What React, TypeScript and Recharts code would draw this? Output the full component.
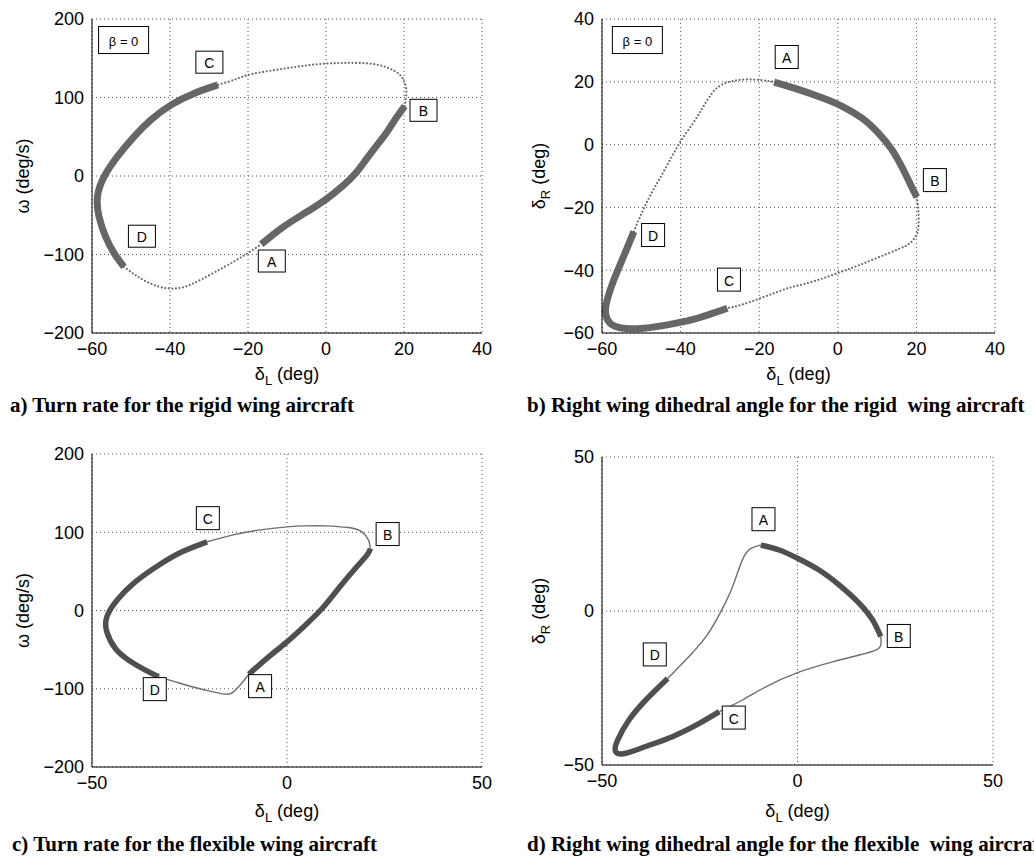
import React from 'react'
import { ComposedChart, Line, XAxis, YAxis, CartesianGrid, ReferenceDot, Label } from 'recharts'

// (δL, value) pairs, split into the thin and the starred (thick) stretches
const aThickAB = [[-16.6, -87], [-11.2, -65.7], [-5.2, -46.6], [0, -29.7], [4.3, -12.7], [7.7, 4.2], [10.3, 21.2], [12.9, 38.1], [15.5, 55], [18, 74], [20.2, 89]]
const aThinBC = [[20.2, 89], [20.6, 106], [20.2, 118.6], [18.9, 129], [16.3, 137], [12.9, 142], [8.6, 144], [4.3, 144], [0, 143.2], [-5.2, 140.7], [-11.2, 136.4], [-18.9, 130], [-23, 123.5], [-27.7, 116]]
const aThickCD = [[-27.7, 116], [-33.7, 105.5], [-39.7, 90.6], [-44.9, 71.5], [-49.2, 50.2], [-53.5, 24.7], [-56.9, -0.9], [-58.6, -26.4], [-58.2, -51.9], [-56.5, -77.4], [-54.3, -98.7], [-51.8, -115.7]]
const aThinDA = [[-51.8, -115.7], [-47.5, -130.6], [-43.2, -140.4], [-39.7, -143.4], [-36.3, -141.3], [-32, -131.9], [-26, -115.7], [-20.9, -100.9], [-16.6, -87]]

const bThickAB = [[-16.2, 19.9], [-9.9, 17.5], [-4, 14.9], [1.1, 12.2], [6.2, 8.4], [10.4, 3.6], [13.8, -1.7], [16.7, -8.1], [18.8, -13.5], [20.1, -16.7]]
const bThinBC = [[20.1, -16.7], [20.5, -21], [20.5, -26.3], [19.7, -29.5], [18, -31.7], [15.4, -33.3], [10.4, -35.9], [5, -38.6], [0, -40.9], [-5.5, -43.3], [-11.1, -45.2], [-14.5, -46.5], [-19.6, -48.9], [-24.7, -51.1], [-28.1, -52.1]]
const bThickCD = [[-28.1, -52.1], [-36.6, -55.6], [-43.4, -57.4], [-49.4, -58.5], [-54.5, -58.5], [-57.9, -56.9], [-59.1, -53.7], [-58.7, -49.5], [-57, -43.1], [-54.5, -35.6], [-51.9, -27.7]]
const bThinDA = [[-51.9, -27.7], [-48.5, -18.1], [-44.5, -9], [-40.3, 0.4], [-37, 6.5], [-34.5, 11.5], [-32.2, 16], [-29.3, 19.2], [-24.2, 20.7], [-19.2, 20.5], [-16.2, 19.9]]

const cThickAB = [[-9.8, -81.4], [-4.7, -59.2], [0, -40], [4.7, -18.7], [9, 2.6], [13.2, 28.1], [17.5, 53.7], [20.5, 70.7], [21.4, 79.2]]
const cThinBC = [[21.4, 79.2], [20.9, 89.9], [19.2, 100.5], [15.8, 106], [9.8, 108.2], [4.7, 108.2], [0, 106.9], [-7.3, 102.7], [-14.1, 96.3], [-20.5, 87.8]]
const cThickCD = [[-20.5, 87.8], [-26.9, 75], [-32.9, 57.9], [-38.9, 36.6], [-43.6, 13.2], [-46.2, -8.1], [-46.2, -27.3], [-44, -48.6], [-40.6, -63.5], [-36.3, -76.3], [-32.9, -84.8]]
const cThinDA = [[-32.9, -84.8], [-28.6, -91.2], [-24.4, -97.5], [-20.1, -102.7], [-15.8, -106.9], [-14.1, -105.2], [-12.4, -97.5], [-9.8, -81.4]]

const dThickAB = [[-9.4, 21.4], [-4.7, 19.8], [0, 17.1], [5.5, 13.3], [10.7, 8.4], [15.8, 2.5], [19.2, -2.9], [21.3, -8.3]]
const dThinBC = [[21.3, -8.3], [21.3, -11], [20, -12.7], [15.8, -14.3], [9, -16.5], [0, -20], [-8.1, -24.6], [-14.1, -28.9], [-20, -32.7]]
const dThickCD = [[-20, -32.7], [-25.1, -36.5], [-32, -40.8], [-38.8, -44], [-43.9, -46.2], [-46.5, -45.7], [-46, -41.9], [-43.1, -35.4], [-38.8, -28.9], [-33.2, -21.9]]
const dThinDA = [[-33.2, -21.9], [-28.6, -15.9], [-23.4, -8.3], [-19.6, -0.2], [-16.6, 7.9], [-14.1, 16.6], [-11.9, 20.3], [-9.4, 21.4]]

// boxed annotations [δL, value, text]
const aLabels = [[-51.9, 173.2, 'β = 0'], [-29.9, 145, 'C'], [25, 83.7, 'B'], [-13.9, -108.3, 'A'], [-47.2, -76.7, 'D']]
const bLabels = [[-51, 33.3, 'β = 0'], [-13, 27.9, 'A'], [24.7, -11.3, 'B'], [-47, -28.8, 'D'], [-27.7, -43, 'C']]
const cLabels = [[-20.3, 118, 'C'], [25.8, 97.7, 'B'], [-6.9, -96.7, 'A'], [-33.9, -100.5, 'D']]
const dLabels = [[-8.7, 29.8, 'A'], [25.9, -8.1, 'B'], [-36.5, -14.1, 'D'], [-16.3, -34.6, 'C']]

const rigidX = [-60, -40, -20, 0, 20, 40]
const flexX = [-50, 0, 50]
const omegaTicks = [-200, -100, 0, 100, 200]
const rigidRTicks = [-60, -40, -20, 0, 20, 40]
const flexRTicks = [-50, 0, 50]

const captions = [
  'a) Turn rate for the rigid wing aircraft',
  'b) Right wing dihedral angle for the rigid  wing aircraft',
  'c) Turn rate for the flexible wing aircraft',
  'd) Right wing dihedral angle for the flexible  wing aircraft',
]

const SANS = '"Liberation Sans", Arial, Helvetica, sans-serif'
const toPts = (arr: number[][]) => arr.map(([x, y]) => ({ x, y }))
const fmt = (v: number) => String(v).replace('-', '\u2212')

function BoxLabel(props: any) {
  const { cx, cy, text, w, h } = props
  const isBeta = text.length > 1
  return (
    <g>
      <rect x={cx - w / 2} y={cy - h / 2} width={w} height={h} fill="#fff" stroke="#000" strokeWidth={1} />
      <text x={cx} y={cy + 1} textAnchor="middle" dominantBaseline="central" fontFamily={SANS} fontSize={isBeta ? 13 : 14} fill="#000">
        {text}
      </text>
    </g>
  )
}

function Title({ viewBox, sym, sub, unit, vertical, off }: any) {
  const { x, y, width, height } = viewBox
  const content = [
    <tspan key="a">{sym}</tspan>,
    <tspan key="b" fontSize={13} dy={5}>{sub}</tspan>,
    <tspan key="c" dy={sub ? -5 : 0}>{unit}</tspan>,
  ]
  if (vertical) {
    const tx = x + width + off
    const ty = y + height / 2
    return (
      <text x={tx} y={ty} transform={`rotate(-90 ${tx} ${ty})`} textAnchor="middle" fontFamily={SANS} fontSize={18} fill="#000">
        {content}
      </text>
    )
  }
  return (
    <text x={x + width / 2} y={y + off} textAnchor="middle" fontFamily={SANS} fontSize={18} fill="#000">
      {content}
    </text>
  )
}

interface PanelProps {
  left: number
  top: number
  height: number
  margin: { top: number; right: number; bottom: number; left: number }
  xTicks: number[]
  yTicks: number[]
  thick: number[][][]
  thin: number[][][]
  labels: any[]
  boxW: number
  boxH: number
  flexible: boolean
  ySym: string
  ySub: string
  yUnit: string
  yOff: number
  xOff: number
}

function Panel(p: PanelProps) {
  const thickStroke = p.flexible ? '#4f4f4f' : '#666'
  const thinProps = p.flexible
    ? { stroke: '#6e6e6e', strokeWidth: 1.4 }
    : { stroke: '#6a6a6a', strokeWidth: 2.2, strokeDasharray: '0 3.6', strokeLinecap: 'round' as const }
  return (
    <div style={{ position: 'absolute', left: p.left, top: p.top }}>
      <ComposedChart width={510} height={p.height} margin={p.margin}>
        <CartesianGrid stroke="#555" strokeDasharray="1 3" />
        <XAxis
          type="number"
          dataKey="x"
          domain={[p.xTicks[0], p.xTicks[p.xTicks.length - 1]]}
          ticks={p.xTicks}
          allowDataOverflow
          height={50}
          tickLine={false}
          tickSize={7}
          tickFormatter={fmt}
          axisLine={{ stroke: '#000', strokeWidth: 1 }}
          tick={{ fill: '#000', fontSize: 18, fontFamily: SANS }}
        >
          <Label content={(lp: any) => <Title {...lp} sym="δ" sub="L" unit=" (deg)" off={p.xOff} />} />
        </XAxis>
        <YAxis
          type="number"
          dataKey="y"
          domain={[p.yTicks[0], p.yTicks[p.yTicks.length - 1]]}
          ticks={p.yTicks}
          allowDataOverflow
          width={80}
          tickLine={false}
          tickSize={6}
          tickFormatter={fmt}
          axisLine={{ stroke: '#000', strokeWidth: 1 }}
          tick={{ fill: '#000', fontSize: 18, fontFamily: SANS }}
        >
          <Label content={(lp: any) => <Title {...lp} vertical sym={p.ySym} sub={p.ySub} unit={p.yUnit} off={p.yOff} />} />
        </YAxis>
        {p.thin.map((seg, i) => (
          <Line key={'thin' + i} data={toPts(seg)} dataKey="y" type="natural" dot={false} isAnimationActive={false} {...thinProps} />
        ))}
        {p.thick.map((seg, i) => (
          <Line key={'thick' + i} data={toPts(seg)} dataKey="y" type="natural" dot={false} isAnimationActive={false} stroke={thickStroke} strokeWidth={p.flexible ? 5.5 : 7} />
        ))}
        {p.labels.map(([x, y, text]) => (
          <ReferenceDot
            key={text}
            x={x}
            y={y}
            r={0}
            shape={(sp: any) => (
              <BoxLabel cx={sp.cx} cy={sp.cy} text={text} w={text.length > 1 ? 50 : p.boxW} h={text.length > 1 ? 27 : p.boxH} />
            )}
          />
        ))}
      </ComposedChart>
    </div>
  )
}

const captionStyle: React.CSSProperties = {
  position: 'absolute',
  fontFamily: '"Liberation Serif", "Times New Roman", serif',
  fontWeight: 'bold',
  fontSize: 21,
  lineHeight: '24px',
  whiteSpace: 'pre',
  color: '#000',
}

export default function App() {
  return (
    <div style={{ position: 'absolute', left: 0, top: 0, width: 1034, height: 857, overflow: 'hidden', background: '#fff' }}>
      <Panel
        left={0} top={0} height={400}
        margin={{ top: 19, right: 28, bottom: 17, left: 12 }}
        xTicks={rigidX} yTicks={omegaTicks}
        thick={[aThickAB, aThickCD]} thin={[aThinBC, aThinDA]}
        labels={aLabels} boxW={27} boxH={22} flexible={false}
        ySym="ω" ySub="" yUnit=" (deg/s)" yOff={-63} xOff={47}
      />
      <Panel
        left={510} top={0} height={400}
        margin={{ top: 19, right: 25, bottom: 17, left: 12 }}
        xTicks={rigidX} yTicks={rigidRTicks}
        thick={[bThickAB, bThickCD]} thin={[bThinBC, bThinDA]}
        labels={bLabels} boxW={23} boxH={23} flexible={false}
        ySym="δ" ySub="R" yUnit=" (deg)" yOff={-57} xOff={47}
      />
      <Panel
        left={0} top={420} height={410}
        margin={{ top: 34, right: 28, bottom: 13, left: 12 }}
        xTicks={flexX} yTicks={omegaTicks}
        thick={[cThickAB, cThickCD]} thin={[cThinBC, cThinDA]}
        labels={cLabels} boxW={23} boxH={23} flexible
        ySym="ω" ySub="" yUnit=" (deg/s)" yOff={-63} xOff={50}
      />
      <Panel
        left={510} top={420} height={410}
        margin={{ top: 37, right: 27, bottom: 15, left: 12 }}
        xTicks={flexX} yTicks={flexRTicks}
        thick={[dThickAB, dThickCD]} thin={[dThinBC, dThinDA]}
        labels={dLabels} boxW={23} boxH={23} flexible
        ySym="δ" ySub="R" yUnit=" (deg)" yOff={-57} xOff={52}
      />
      <div style={{ ...captionStyle, left: 10, top: 393 }}>{captions[0]}</div>
      <div style={{ ...captionStyle, left: 527, top: 393 }}>{captions[1]}</div>
      <div style={{ ...captionStyle, left: 12, top: 832 }}>{captions[2]}</div>
      <div style={{ ...captionStyle, left: 527, top: 832 }}>{captions[3]}</div>
    </div>
  )
}
